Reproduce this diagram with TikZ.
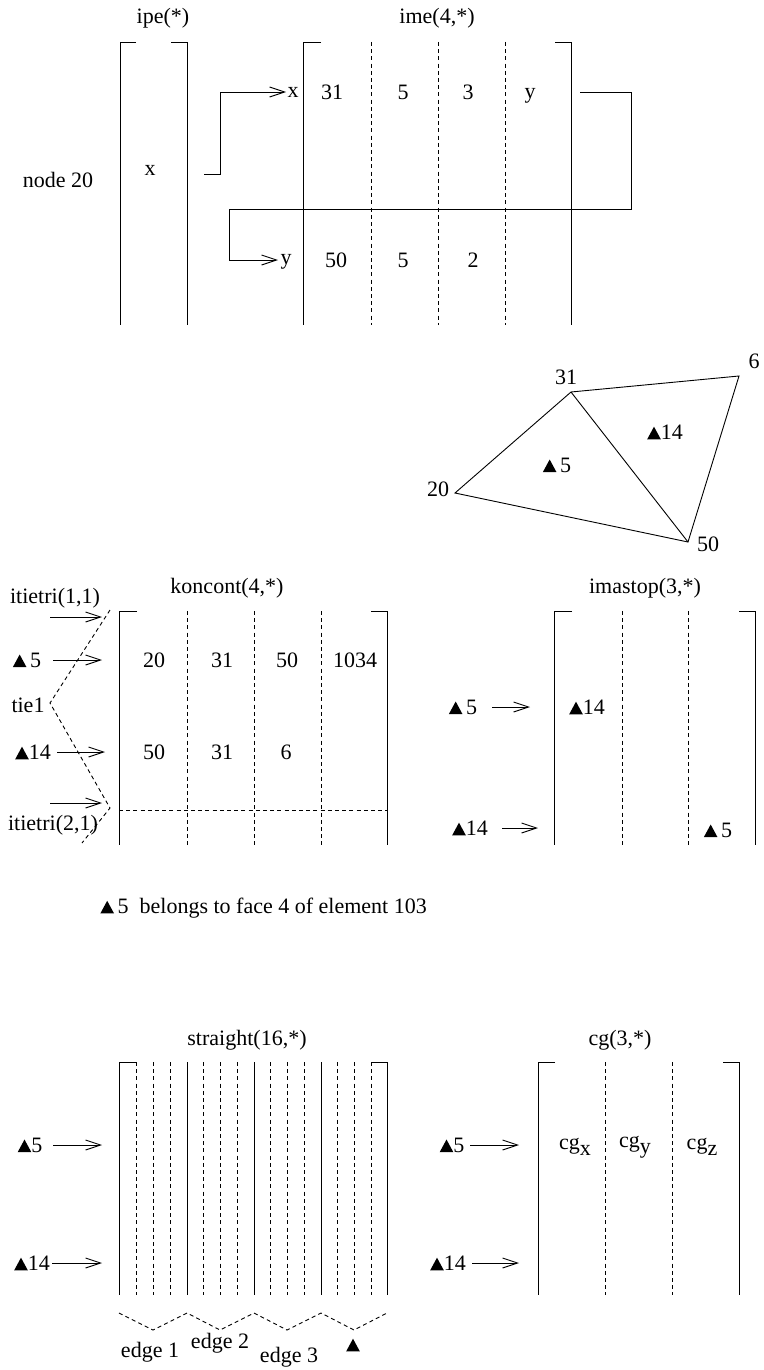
\documentclass[tikz,border=0pt]{standalone}
\usepackage{fontspec}
\setmainfont{Liberation Serif}
\usetikzlibrary{arrows.meta}
\newcommand\tri{\tikz[baseline=0pt,x=1pt,y=1pt]\fill (0,0)--(6.8,0)--(3.4,6.3)--cycle;}
\newcommand\sbx[1]{\raisebox{-0.6ex}{#1}}
\begin{document}
\begin{tikzpicture}[x=0.5pt,y=-0.5pt,
  ln/.style={line width=0.45pt},
  dsh/.style={line width=0.45pt,dash pattern=on 2pt off 1.6pt},
  arr/.style={line width=0.45pt,-{Straight Barb[length=7.5pt,width=5pt,line width=0.45pt]}},
  lbl/.style={font=\fontsize{11}{13}\selectfont,inner sep=0pt}]
\useasboundingbox (0,0) rectangle (764,1370);

% ---------------- top: ipe / ime ----------------
\node[lbl] (tipe) at (163,18) {ipe(*)};
\node[lbl] (time) at (437,18) {ime(4,*)};
\draw[ln] (136,42) -- (120,42) -- (120,325);
\draw[ln] (171,42) -- (187,42) -- (187,325);
\node[lbl] (ipex) at (150,170) {x};
\node[lbl] (n20) at (58,180) {node 20};

\draw[ln] (321,42) -- (303,42) -- (303,325);
\draw[ln] (555,42) -- (571,42) -- (571,325);
\foreach \xx in {371,438,505} \draw[dsh] (\xx,42) -- (\xx,325);
\node[lbl,anchor=base] (r1a) at (332,100) {31};
\node[lbl,anchor=base] (r1b) at (403,100) {5};
\node[lbl,anchor=base] (r1c) at (468,100) {3};
\node[lbl,anchor=base] (r1d) at (530,98) {y};
\node[lbl,anchor=base] (r2a) at (336,267) {50};
\node[lbl,anchor=base] (r2b) at (403,267) {5};
\node[lbl,anchor=base] (r2c) at (473,267) {2};
\node[lbl] (xl) at (293,92) {x};
\node[lbl] (yl) at (286,262) {y};
\coordinate (c1s) at (204,174);
\coordinate (c2s) at (580,92);
\coordinate (xt) at (286,92);
\coordinate (yt) at (278,260);
\draw[arr] (c1s) -- (220,174) |- (xt);
\draw[arr] (c2s) -- (631,92) -- (631,209) -- (229,209) |- (yt);

% ---------------- triangles ----------------
\coordinate (v20) at (455,493);
\coordinate (v31) at (571,392);
\coordinate (v6) at (739,376);
\coordinate (v50) at (688,542);
\draw[ln] (v20) -- (v31) -- (v6) -- (v50) -- cycle;
\draw[ln] (v31) -- (v50);
\node[lbl] (l31) at (566,377) {31};
\node[lbl] (l6) at (754,361) {6};
\node[lbl] (l20) at (438,489) {20};
\node[lbl] (l50) at (708,544) {50};
\node[lbl] (t14) at (665,432) {\tri14};
\node[lbl] (t5) at (557,465) {\tri\,5};

% ---------------- koncont ----------------
\node[lbl] (tkon) at (227,588) {koncont(4,*)};
\node[lbl] (it11) at (55,598) {itietri(1,1)};
\draw[ln] (137,611) -- (119,611) -- (119,845);
\draw[ln] (371,611) -- (387,611) -- (387,845);
\foreach \xx in {187,254,321} \draw[dsh] (\xx,611) -- (\xx,845);
\draw[dsh] (119,810) -- (387,810);
\node[lbl] (k1a) at (154,660) {20};
\node[lbl] (k1b) at (222,660) {31};
\node[lbl] (k1c) at (287,660) {50};
\node[lbl] (k1d) at (355,660) {1034};
\node[lbl] (k2a) at (154,752) {50};
\node[lbl] (k2b) at (222,752) {31};
\node[lbl] (k2c) at (286,752) {6};
\node[lbl] (kt5) at (27,660) {\tri\,5};
\node[lbl] (kt14) at (33,752) {\tri14};
\node[lbl] (tie) at (28,705) {tie1};
\node[lbl] (it21) at (53,825) {itietri(2,1)};
\coordinate (ka1s) at (50,617); \coordinate (ka1e) at (102,617);
\coordinate (ka2s) at (53,660); \coordinate (ka2e) at (102,660);
\coordinate (ka3s) at (57,752); \coordinate (ka3e) at (105,752);
\coordinate (ka4s) at (50,803); \coordinate (ka4e) at (102,803);
\draw[arr] (ka1s) -- (ka1e);
\draw[arr] (ka2s) -- (ka2e);
\draw[arr] (ka3s) -- (ka3e);
\draw[arr] (ka4s) -- (ka4e);
\coordinate (z1) at (110,610);
\coordinate (z2) at (50,703);
\coordinate (z3) at (110,808);
\coordinate (z4) at (82,843);
\draw[dsh] (z1) -- (z2) -- (z3) -- (z4);

% ---------------- imastop ----------------
\node[lbl] (timas) at (645,588) {imastop(3,*)};
\draw[ln] (572,611) -- (554,611) -- (554,845);
\draw[ln] (739,611) -- (755,611) -- (755,845);
\foreach \xx in {622,688} \draw[dsh] (\xx,611) -- (\xx,845);
\node[lbl] (mt5) at (463,707) {\tri\,5};
\node[lbl] (mt14) at (470,828) {\tri14};
\node[lbl] (mi14) at (587,707) {\tri14};
\node[lbl] (mi5) at (718,830) {\tri\,5};
\coordinate (ma1s) at (492,707); \coordinate (ma1e) at (530,707);
\coordinate (ma2s) at (502,828); \coordinate (ma2e) at (538,828);
\draw[arr] (ma1s) -- (ma1e);
\draw[arr] (ma2s) -- (ma2e);

% ---------------- sentence ----------------
\node[lbl,anchor=west] (sent) at (100,908) {\tri\,5\ \ belongs to face 4 of element 103};

% ---------------- straight ----------------
\node[lbl] (tstr) at (247,1040) {straight(16,*)};
\draw[ln] (136,1062) -- (119,1062) -- (119,1295);
\draw[ln] (371,1062) -- (387,1062) -- (387,1295);
\foreach \xx in {187,254,321} \draw[ln] (\xx,1062) -- (\xx,1295);
\foreach \xx in {136,153,170,203,220,237,270,287,304,337,354,371} \draw[dsh] (\xx,1062) -- (\xx,1295);
\node[lbl] (st5) at (30,1145) {\tri5};
\node[lbl] (st14) at (32,1263) {\tri14};
\coordinate (sa1s) at (53,1145); \coordinate (sa1e) at (102,1145);
\coordinate (sa2s) at (52,1263); \coordinate (sa2e) at (102,1263);
\draw[arr] (sa1s) -- (sa1e);
\draw[arr] (sa2s) -- (sa2e);
\draw[dsh] (119,1313) -- (153,1330) -- (187,1313) -- (220,1330) -- (254,1313) -- (287,1330) -- (321,1313) -- (354,1330) -- (387,1313);
\node[lbl] (e1) at (150,1352) {edge 1};
\node[lbl] (e2) at (220,1343) {edge 2};
\node[lbl] (e3) at (289,1357) {edge 3};
\node[lbl] (e4) at (353,1345) {\tri};

% ---------------- cg ----------------
\node[lbl] (tcg) at (620,1040) {cg(3,*)};
\draw[ln] (555,1062) -- (538,1062) -- (538,1295);
\draw[ln] (723,1062) -- (739,1062) -- (739,1295);
\foreach \xx in {605,672} \draw[dsh] (\xx,1062) -- (\xx,1295);
\node[lbl] (cgx) at (575,1147) {cg\sbx{x}};
\node[lbl] (cgy) at (635,1147) {cg\sbx{y}};
\node[lbl] (cgz) at (702,1147) {cg\sbx{z}};
\node[lbl] (ct5) at (452,1145) {\tri5};
\node[lbl] (ct14) at (448,1263) {\tri14};
\coordinate (ca1s) at (470,1145); \coordinate (ca1e) at (519,1145);
\coordinate (ca2s) at (472,1263); \coordinate (ca2e) at (519,1263);
\draw[arr] (ca1s) -- (ca1e);
\draw[arr] (ca2s) -- (ca2e);
\end{tikzpicture}
\end{document}
